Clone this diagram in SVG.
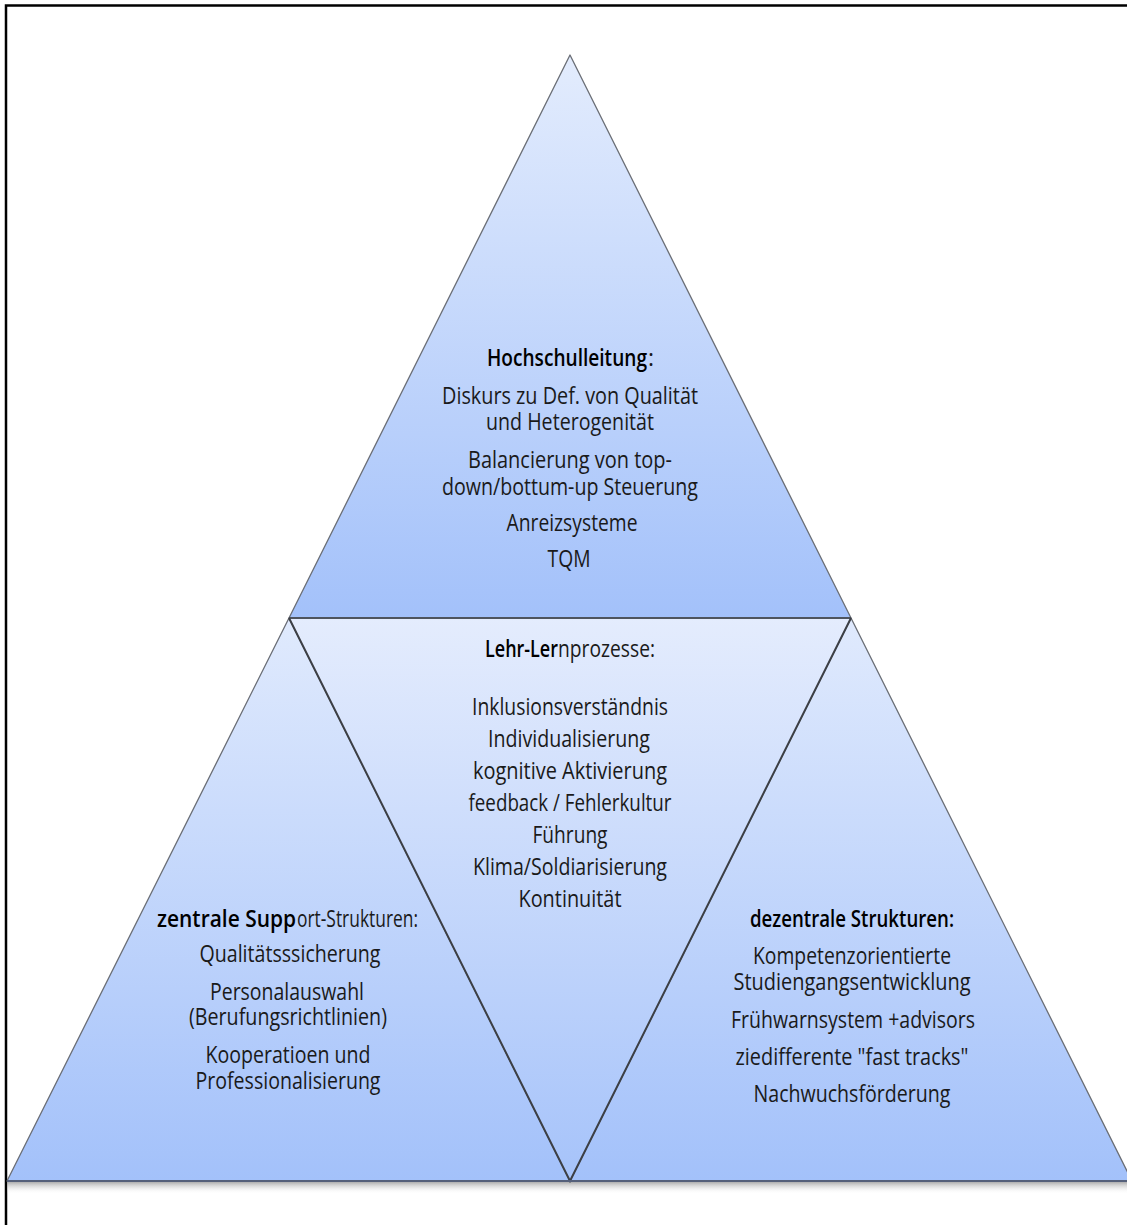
<svg xmlns="http://www.w3.org/2000/svg" width="1127" height="1225" viewBox="0 0 1127 1225">
<style>
.t{font-family:"Open Sans","Noto Sans","Liberation Sans",sans-serif;font-size:23px;fill:#1a1a1a;text-anchor:middle}
.s{text-anchor:start}
.b{font-weight:600;fill:#000}
.edge{stroke:#6a6e76;stroke-width:1.3;stroke-linejoin:round}
.inner{stroke:#3c3f45;stroke-width:2;fill:none}
</style>
<defs>
<linearGradient id="gTop" x1="0" y1="55" x2="0" y2="618" gradientUnits="userSpaceOnUse">
<stop offset="0" stop-color="#e3ecfd"/><stop offset="1" stop-color="#a3c1fa"/>
</linearGradient>
<linearGradient id="gBot" x1="0" y1="618" x2="0" y2="1181" gradientUnits="userSpaceOnUse">
<stop offset="0" stop-color="#e0eafd"/><stop offset="1" stop-color="#a3c1fa"/>
</linearGradient>
<linearGradient id="gMid" x1="0" y1="618" x2="0" y2="1181" gradientUnits="userSpaceOnUse">
<stop offset="0" stop-color="#e4ecfd"/><stop offset="1" stop-color="#a6c3fa"/>
</linearGradient>
<linearGradient id="gShadow" x1="0" y1="0" x2="0" y2="1">
<stop offset="0" stop-color="#9a9a9a" stop-opacity="0.8"/><stop offset="1" stop-color="#ffffff" stop-opacity="0"/>
</linearGradient>
</defs>
<rect x="0" y="0" width="1127" height="1225" fill="#fff"/>
<rect x="6" y="5.5" width="1135" height="1240" fill="none" stroke="#000" stroke-width="2.5"/>
<rect x="7" y="1182" width="1120" height="12" fill="url(#gShadow)"/>

<g id="node-top">
<polygon points="570,55 851,618 289,618" fill="url(#gTop)" class="edge"/>
<text class="t s b" x="487" y="366" textLength="160" lengthAdjust="spacingAndGlyphs">Hochschulleitung</text>
<text class="t s" x="648" y="366">:</text>
<text class="t" x="570" y="404" textLength="256" lengthAdjust="spacingAndGlyphs">Diskurs zu Def. von Qualität</text>
<text class="t" x="570" y="430" textLength="168" lengthAdjust="spacingAndGlyphs">und Heterogenität</text>
<text class="t" x="570" y="468" textLength="204" lengthAdjust="spacingAndGlyphs">Balancierung von top-</text>
<text class="t" x="570" y="495" textLength="256" lengthAdjust="spacingAndGlyphs">down/bottum-up Steuerung</text>
<text class="t" x="572" y="531" textLength="131" lengthAdjust="spacingAndGlyphs">Anreizsysteme</text>
<text class="t" x="569" y="567" textLength="43" lengthAdjust="spacingAndGlyphs">TQM</text>
</g>

<g id="node-left">
<polygon points="289,618 570,1181 7,1181" fill="url(#gBot)" class="edge"/>
<text class="t s b" x="157" y="927" textLength="139" lengthAdjust="spacingAndGlyphs">zentrale Supp</text>
<text class="t s" x="297" y="927" textLength="121" lengthAdjust="spacingAndGlyphs">ort-Strukturen:</text>
<text class="t" x="290" y="962" textLength="181" lengthAdjust="spacingAndGlyphs">Qualitätsssicherung</text>
<text class="t" x="287" y="1000" textLength="154" lengthAdjust="spacingAndGlyphs">Personalauswahl</text>
<text class="t" x="288" y="1025" textLength="198" lengthAdjust="spacingAndGlyphs">(Berufungsrichtlinien)</text>
<text class="t" x="288" y="1063" textLength="165" lengthAdjust="spacingAndGlyphs">Kooperatioen und</text>
<text class="t" x="288" y="1089" textLength="185" lengthAdjust="spacingAndGlyphs">Professionalisierung</text>
</g>

<g id="node-right">
<polygon points="851,618 1132,1181 570,1181" fill="url(#gBot)" class="edge"/>
<text class="t b" x="852" y="927" textLength="204" lengthAdjust="spacingAndGlyphs">dezentrale Strukturen:</text>
<text class="t" x="852" y="964" textLength="198" lengthAdjust="spacingAndGlyphs">Kompetenzorientierte</text>
<text class="t" x="852" y="990" textLength="237" lengthAdjust="spacingAndGlyphs">Studiengangsentwicklung</text>
<text class="t" x="853" y="1028" textLength="244" lengthAdjust="spacingAndGlyphs">Frühwarnsystem +advisors</text>
<text class="t" x="852" y="1065" textLength="233" lengthAdjust="spacingAndGlyphs">ziedifferente "fast tracks"</text>
<text class="t" x="852" y="1102" textLength="197" lengthAdjust="spacingAndGlyphs">Nachwuchsförderung</text>
</g>

<g id="node-middle">
<polygon points="289,618 851,618 570,1181" fill="url(#gMid)"/>
<text class="t s b" x="485" y="657" textLength="73" lengthAdjust="spacingAndGlyphs">Lehr-Ler</text>
<text class="t s" x="558" y="657" textLength="97" lengthAdjust="spacingAndGlyphs">nprozesse:</text>
<text class="t" x="570" y="715" textLength="196" lengthAdjust="spacingAndGlyphs">Inklusionsverständnis</text>
<text class="t" x="569" y="747" textLength="162" lengthAdjust="spacingAndGlyphs">Individualisierung</text>
<text class="t" x="570" y="779" textLength="194" lengthAdjust="spacingAndGlyphs">kognitive Aktivierung</text>
<text class="t" x="570" y="811" textLength="203" lengthAdjust="spacingAndGlyphs">feedback / Fehlerkultur</text>
<text class="t" x="570" y="843" textLength="75" lengthAdjust="spacingAndGlyphs">Führung</text>
<text class="t" x="570" y="875" textLength="194" lengthAdjust="spacingAndGlyphs">Klima/Soldiarisierung</text>
<text class="t" x="570" y="907" textLength="103" lengthAdjust="spacingAndGlyphs">Kontinuität</text>
</g>

<g id="connectors">
<line x1="289" y1="618" x2="851" y2="618" stroke="#4e545e" stroke-width="2.2"/>
<polyline points="289,618 570,1181 851,618" class="inner"/>
<line x1="7" y1="1181" x2="1127" y2="1181" stroke="#55607a" stroke-width="2"/>
</g>
</svg>
